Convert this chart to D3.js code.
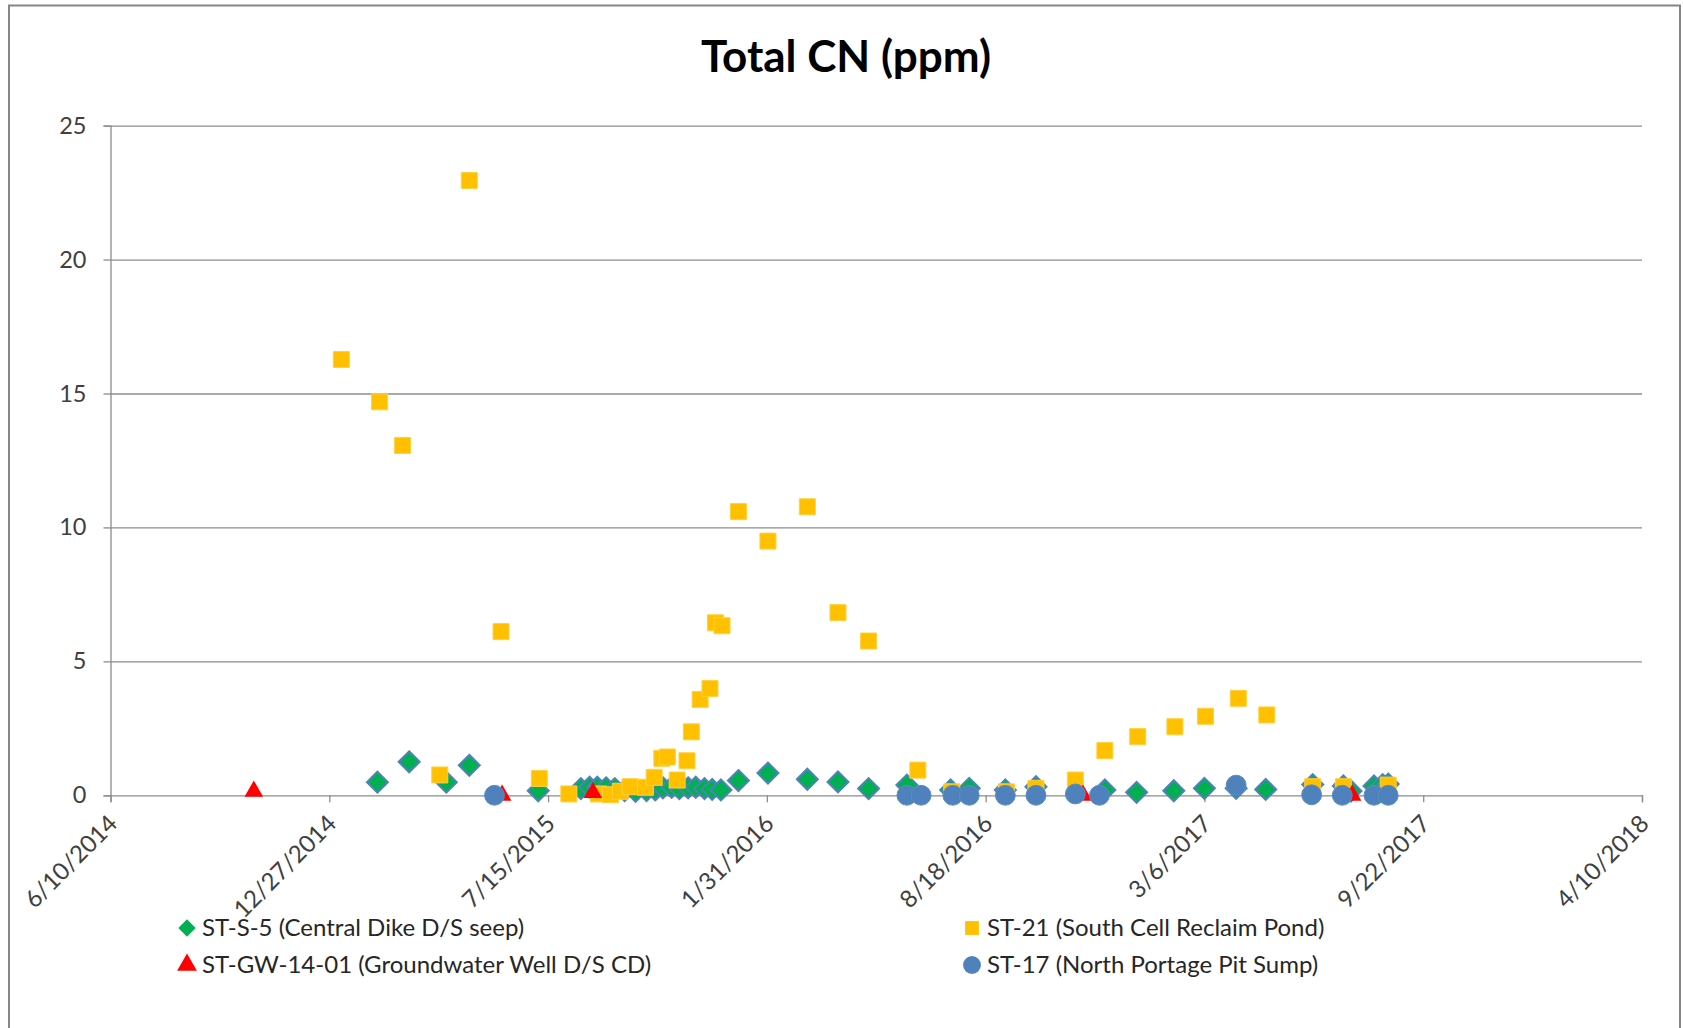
<!DOCTYPE html>
<html>
<head>
<meta charset="utf-8">
<script src="https://cdn.jsdelivr.net/npm/d3@7"></script>
<style>
  body { margin: 0; background: #fff; }
  svg text { font-family: Lato, "Open Sans", sans-serif; }
</style>
</head>
<body>
<div id="grafico"></div>
<script>
// Datos
const xTickLabels = ["6/10/2014", "12/27/2014", "7/15/2015", "1/31/2016", "8/18/2016", "3/6/2017", "9/22/2017", "4/10/2018"];
const yTicks = [0, 5, 10, 15, 20, 25];

// ST-S-5 (Central Dike D/S seep)
const s5Dates = ["2/9/2015", "3/10/2015", "4/13/2015", "5/4/2015", "7/6/2015",
  "8/14/2015", "8/22/2015", "8/29/2015", "9/6/2015", "9/14/2015", "9/23/2015", "10/3/2015", "10/13/2015", "10/21/2015",
  "10/28/2015", "11/5/2015", "11/12/2015", "11/20/2015", "11/27/2015", "12/5/2015", "12/12/2015", "12/20/2015",
  "1/5/2016", "2/1/2016", "3/8/2016", "4/5/2016", "5/3/2016", "6/7/2016", "7/17/2016", "8/3/2016", "9/5/2016",
  "10/3/2016", "12/5/2016", "1/3/2017", "2/6/2017", "3/6/2017", "4/4/2017", "5/1/2017", "6/13/2017",
  "7/11/2017", "7/18/2017", "8/8/2017", "8/16/2017", "8/21/2017"];
const s5Values = [0.49, 1.25, 0.49, 1.12, 0.17,
  0.25, 0.3, 0.3, 0.28, 0.25, 0.18, 0.15, 0.18, 0.2,
  0.28, 0.3, 0.25, 0.28, 0.3, 0.25, 0.22, 0.2,
  0.55, 0.83, 0.6, 0.5, 0.25, 0.38, 0.2, 0.26, 0.2,
  0.32, 0.2, 0.11, 0.17, 0.26, 0.26, 0.22, 0.4,
  0.35, 0.16, 0.35, 0.4, 0.42];

// ST-21 (South Cell Reclaim Pond)
const st21Dates = ["1/7/2015", "2/11/2015", "3/4/2015", "4/7/2015", "5/4/2015", "6/2/2015", "7/7/2015", "8/3/2015",
  "8/30/2015", "9/10/2015", "9/19/2015", "9/28/2015", "10/12/2015", "10/20/2015", "10/27/2015", "11/1/2015",
  "11/10/2015", "11/19/2015", "11/23/2015", "12/1/2015", "12/10/2015", "12/15/2015", "12/21/2015",
  "1/5/2016", "2/1/2016", "3/8/2016", "4/5/2016", "5/3/2016", "6/17/2016", "7/18/2016", "9/6/2016",
  "10/3/2016", "11/8/2016", "12/5/2016", "1/4/2017", "2/7/2017", "3/7/2017", "4/6/2017", "5/2/2017",
  "6/13/2017", "7/11/2017", "8/21/2017"];
const st21Values = [16.27, 14.69, 13.06, 0.76, 22.95, 6.11, 0.63, 0.05,
  0.05, 0.02, 0.15, 0.32, 0.3, 0.67, 1.38, 1.43,
  0.57, 1.29, 2.37, 3.58, 3.99, 6.44, 6.33,
  10.59, 9.49, 10.77, 6.82, 5.76, 0.94, 0.13, 0.13,
  0.26, 0.57, 1.67, 2.19, 2.56, 2.95, 3.62, 3.0,
  0.32, 0.32, 0.38];

// ST-GW-14-01 (Groundwater Well D/S CD)
const gwDates = ["10/19/2014", "6/3/2015", "8/25/2015", "11/15/2016", "7/19/2017"];
const gwValues = [0.15, 0.0, 0.1, 0.0, 0.0];

// ST-17 (North Portage Pit Sump)
const st17Dates = ["5/27/2015", "6/7/2016", "6/20/2016", "7/19/2016", "8/3/2016", "9/5/2016", "10/3/2016",
  "11/8/2016", "11/30/2016", "4/4/2017", "6/12/2017", "7/10/2017", "8/8/2017", "8/21/2017"];
const st17Values = [0, 0, 0, 0, 0, 0, 0, 0.05, 0, 0.38, 0.02, 0, 0, 0];

const W = 1683, H = 1028;
const margin = { top: 125.6, left: 110.5, right: W - 1642, bottom: H - 795.3 };
const parse = d3.utcParse("%m/%d/%Y");
const fmt = d3.utcFormat("%-m/%-d/%Y");

const svg = d3.select("#grafico").append("svg")
  .attr("width", W)
  .attr("height", H);

// marco del grafico
svg.append("rect")
  .attr("x", 9).attr("y", 5.5)
  .attr("width", 1671).attr("height", 1060)
  .attr("fill", "#fff")
  .attr("stroke", "#868686")
  .attr("stroke-width", 2);

const xTicks = xTickLabels.map(parse);
const x = d3.scaleUtc()
  .domain([xTicks[0], xTicks[xTicks.length - 1]])
  .range([margin.left, W - margin.right]);
const y = d3.scaleLinear()
  .domain([0, 25])
  .range([H - margin.bottom, margin.top]);

// Titulo
svg.append("text")
  .attr("x", 846).attr("y", 72)
  .attr("text-anchor", "middle")
  .style("font-size", "44px")
  .style("font-weight", "bold")
  .text("Total CN (ppm)");

// Rejilla
svg.append("g")
  .attr("transform", `translate(${margin.left},0)`)
  .call(d3.axisLeft(y).tickValues(yTicks.slice(1)).tickSize(-(W - margin.left - margin.right)).tickFormat(""))
  .call(g => g.select(".domain").remove())
  .selectAll("line")
  .attr("stroke", "#8c8c8c")
  .attr("stroke-width", 1.3);

// Eje Y
svg.append("g")
  .attr("class", "y-axis")
  .attr("transform", `translate(${margin.left},0)`)
  .call(d3.axisLeft(y).tickValues(yTicks).tickSize(7).tickPadding(17))
  .call(g => g.select(".domain").attr("stroke", "#8c8c8c").attr("stroke-width", 1.3))
  .call(g => g.selectAll("line").attr("stroke", "#8c8c8c").attr("stroke-width", 1.3))
  .selectAll("text")
  .style("font-size", "23.5px")
  .style("font-family", "Lato, sans-serif")
  .attr("fill", "#404040");

// Eje X
svg.append("g")
  .attr("class", "x-axis")
  .attr("transform", `translate(0,${y(0)})`)
  .call(d3.axisBottom(x).tickValues(xTicks).tickFormat(fmt).tickSize(7))
  .call(g => g.select(".domain").attr("stroke", "#8c8c8c").attr("stroke-width", 1.3))
  .call(g => g.selectAll("line").attr("stroke", "#8c8c8c").attr("stroke-width", 1.3))
  .selectAll("text")
  .style("font-size", "24px")
  .style("font-family", "Lato, sans-serif")
  .attr("fill", "#404040")
  .attr("text-anchor", "end")
  .attr("dy", "0.35em")
  .attr("y", 0)
  .attr("transform", "translate(2,24) rotate(-45)");

// Series, en el orden de Excel
const diamond = { draw: (ctx, size) => { const r = Math.sqrt(size) / 2; ctx.moveTo(0, -r); ctx.lineTo(r, 0); ctx.lineTo(0, r); ctx.lineTo(-r, 0); ctx.closePath(); } };
const series = [
  { name: "ST-S-5 (Central Dike D/S seep)", dates: s5Dates, values: s5Values, type: diamond, size: 440, fill: "#00b050", stroke: "#4f81bd" },
  { name: "ST-21 (South Cell Reclaim Pond)", dates: st21Dates, values: st21Values, type: d3.symbolSquare, size: 256, fill: "#ffc000", stroke: "#ffd040" },
  { name: "ST-GW-14-01 (Groundwater Well D/S CD)", dates: gwDates, values: gwValues, type: d3.symbolTriangle, size: 150, fill: "#ff0000", stroke: "none" },
  { name: "ST-17 (North Portage Pit Sump)", dates: st17Dates, values: st17Values, type: d3.symbolCircle, size: 310, fill: "#4f81bd", stroke: "#5b8cc6" }
];

series.forEach(s => {
  const pts = s.dates.map((d, i) => ({ date: parse(d), value: s.values[i] }));
  svg.append("g")
    .selectAll("path")
    .data(pts)
    .enter()
    .append("path")
    .attr("transform", d => `translate(${x(d.date)},${y(d.value)})`)
    .attr("d", d3.symbol().type(s.type).size(s.size))
    .attr("fill", s.fill)
    .attr("stroke", s.stroke)
    .attr("stroke-width", s.type === diamond ? 2 : 1);
});

// Leyenda
const legendPos = [
  { x: 187, y: 928 }, { x: 972, y: 928 },
  { x: 187, y: 965 }, { x: 972, y: 965 }
];
const legendSize = [300, 190, 170, 250];
series.forEach((s, i) => {
  const g = svg.append("g").attr("transform", `translate(${legendPos[i].x},${legendPos[i].y})`);
  g.append("path")
    .attr("d", d3.symbol().type(s.type).size(legendSize[i]))
    .attr("fill", s.fill);
  g.append("text")
    .attr("x", 15)
    .attr("dy", "0.35em")
    .style("font-size", "24px")
    .attr("fill", "#262626")
    .text(s.name);
});
</script>
</body>
</html>
